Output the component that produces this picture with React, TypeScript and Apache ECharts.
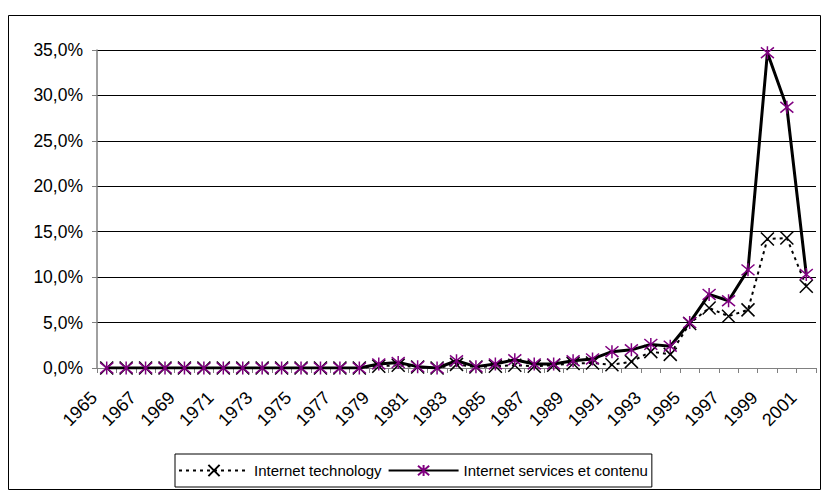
import React, { useEffect, useRef } from "react";
import * as echarts from "echarts";

const years: string[] = [];
for (let y = 1965; y <= 2001; y++) years.push(String(y));

const techValues = [
  0, 0, 0, 0, 0, 0, 0, 0, 0, 0, 0, 0, 0, 0,
  0.2, 0.3, 0.1, 0, 0.4, 0.1, 0.2, 0.3, 0.2, 0.3, 0.5,
  0.55, 0.35, 0.7, 1.8, 1.5, 4.9, 6.6, 5.7, 6.4, 14.2, 14.3, 9.0,
];

const servicesValues = [
  0, 0, 0, 0, 0, 0, 0, 0, 0, 0, 0, 0, 0, 0,
  0.45, 0.6, 0.15, 0, 0.8, 0.15, 0.45, 0.9, 0.45, 0.45, 0.8,
  1.0, 1.8, 2.0, 2.6, 2.4, 5.0, 8.1, 7.4, 10.8, 34.7, 28.7, 10.3,
];

const X_PATH = "path://M0,0L10,10M10,0L0,10";
const STAR_PATH = "path://M0,0L10,10M10,0L0,10M5,-1L5,11";

export default function App() {
  const ref = useRef<HTMLDivElement>(null);
  useEffect(() => {
    document.body.style.margin = "0";
    const chart = echarts.init(ref.current!, null, { renderer: "svg" });
    const font = "Liberation Sans, Arial, sans-serif";
    chart.setOption({
      animation: false,
      backgroundColor: "#fff",
      textStyle: { fontFamily: font },
      graphic: [
        {
          type: "rect",
          shape: { x: 8.5, y: 15.5, width: 812, height: 474 },
          style: { fill: "none", stroke: "#000", lineWidth: 1 },
          silent: true,
          z: -1,
        },
      ],
      grid: { left: 97, top: 50, right: 6, bottom: 123 },
      legend: {
        bottom: 4,
        left: 175,
        data: ["Internet technology", "Internet services et contenu"],
        borderColor: "#000",
        borderWidth: 1,
        borderRadius: 0,
        padding: [9, 4, 9, 3],
        itemWidth: 70,
        itemHeight: 14,
        itemGap: 6,
        textStyle: { fontFamily: font, fontSize: 15, color: "#000", padding: [0, 0, 0, 0] },
      },
      xAxis: {
        type: "category",
        data: years,
        boundaryGap: true,
        axisLine: { lineStyle: { color: "#808080", width: 1 } },
        axisTick: { show: true, interval: 0, alignWithLabel: false, length: 5, lineStyle: { color: "#808080" } },
        axisLabel: {
          interval: 1,
          rotate: 45,
          fontSize: 18,
          color: "#000",
          fontFamily: font,
          margin: 14,
          padding: [0, 18, 0, 0],
        },
        splitLine: { show: false },
      },
      yAxis: {
        type: "value",
        min: 0,
        max: 35,
        interval: 5,
        axisLine: { show: true, lineStyle: { color: "#808080", width: 1.5 } },
        axisTick: { show: true, length: 5, lineStyle: { color: "#808080" } },
        axisLabel: {
          fontSize: 17.5,
          color: "#000",
          fontFamily: font,
          margin: 14,
          formatter: (v: number) => v.toFixed(1).replace(".", ",") + "%",
        },
        splitLine: { show: true, lineStyle: { color: "#000", width: 1 } },
      },
      series: [
        {
          name: "Internet technology",
          type: "line",
          data: techValues,
          symbol: X_PATH,
          symbolSize: 13,
          showAllSymbol: true,
          lineStyle: { color: "#000", width: 2, type: [3, 4] },
          itemStyle: { color: "transparent", borderColor: "#000", borderWidth: 1.5 },
          z: 2,
        },
        {
          name: "Internet services et contenu",
          type: "line",
          data: servicesValues,
          symbol: STAR_PATH,
          symbolSize: 13,
          showAllSymbol: true,
          lineStyle: { color: "#000", width: 3 },
          itemStyle: { color: "transparent", borderColor: "#800080", borderWidth: 1.5 },
          z: 3,
        },
      ],
    });
    return () => chart.dispose();
  }, []);
  return (
    <div
      ref={ref}
      style={{ position: "absolute", left: 0, top: 0, width: 822, height: 491 }}
    />
  );
}
